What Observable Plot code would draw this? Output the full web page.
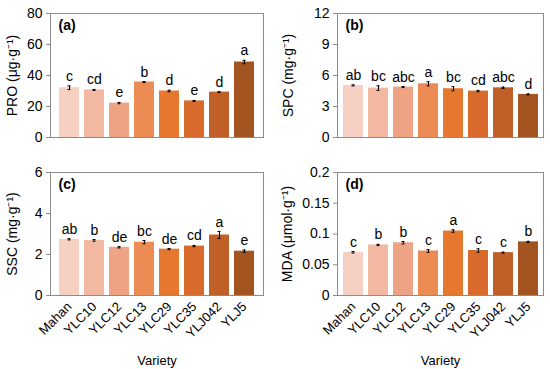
<!DOCTYPE html>
<html>
<head>
<meta charset="utf-8">
<script src="https://cdn.jsdelivr.net/npm/d3@7"></script>
<script src="https://cdn.jsdelivr.net/npm/@observablehq/plot@0.6"></script>
<style>
  body { margin: 0; background: #fff; }
  #wrap { position: relative; width: 550px; height: 369px; background: #fff; font-family: "Liberation Sans", Arial, sans-serif; }
  #wrap > div { position: absolute; }
</style>
</head>
<body>
<div id="wrap">
  <div id="pa" style="left:0;top:0"></div>
  <div id="pb" style="left:275px;top:0"></div>
  <div id="pc" style="left:0;top:160px"></div>
  <div id="pd" style="left:275px;top:160px"></div>
</div>
<script>
const varieties = ["Mahan", "YLC10", "YLC12", "YLC13", "YLC29", "YLC35", "YLJ042", "YLJ5"];
const barColors = ["#f5d0c3", "#f2b8a1", "#eea385", "#ec8b53", "#e6772f", "#d86b2b", "#c05f27", "#a35420"];

// (a) PRO
const proValues = [32.1, 30.7, 22.2, 35.8, 30.0, 23.6, 29.3, 48.7];
const proErrors = [1.2, 0.3, 0.4, 0.3, 0.5, 0.3, 0.3, 1.1];
const proLetters = ["c", "cd", "e", "b", "d", "e", "d", "a"];
const proTicks = [0, 20, 40, 60, 80];

// (b) SPC
const spcValues = [5.04, 4.78, 4.88, 5.2, 4.72, 4.49, 4.81, 4.17];
const spcErrors = [0.05, 0.22, 0.05, 0.2, 0.2, 0.07, 0.07, 0.05];
const spcLetters = ["ab", "bc", "abc", "a", "bc", "cd", "abc", "d"];
const spcTicks = [0, 3, 6, 9, 12];

// (c) SSC
const sscValues = [2.74, 2.69, 2.35, 2.6, 2.26, 2.41, 2.95, 2.16];
const sscErrors = [0.03, 0.04, 0.03, 0.08, 0.03, 0.03, 0.17, 0.06];
const sscLetters = ["ab", "b", "de", "bc", "de", "cd", "a", "e"];
const sscTicks = [0, 2, 4, 6];

// (d) MDA
const mdaValues = [0.0703, 0.0822, 0.0858, 0.0724, 0.1048, 0.0731, 0.0697, 0.0872];
const mdaErrors = [0.0012, 0.0010, 0.0020, 0.0022, 0.0020, 0.0028, 0.0008, 0.0008];
const mdaLetters = ["c", "b", "b", "c", "a", "c", "c", "b"];
const mdaTicks = [0, 0.05, 0.1, 0.15, 0.2];

const FONT = "'Liberation Sans', Arial, sans-serif";

function panel({el, values, errors, letters, ticks, yLabel, tag, bottom, marginLeft, marginRight, labelX}) {
  const data = varieties.map((v, i) => ({variety: v, value: values[i], lo: values[i] - errors[i], hi: values[i] + errors[i], letter: letters[i]}));
  const height = bottom ? 209 : 160;
  const marks = [
    Plot.barY(data, {x: "variety", y: "value", fill: "variety"}),
    Plot.ruleX(data, {x: "variety", y1: "lo", y2: "hi", stroke: "#000", strokeWidth: 1}),
    Plot.tickY(data, {x: "variety", y: "hi", stroke: "#000", strokeWidth: 1, insetLeft: 8.5, insetRight: 8.5}),
    Plot.tickY(data, {x: "variety", y: "lo", stroke: "#000", strokeWidth: 1, insetLeft: 8.5, insetRight: 8.5}),
    Plot.text(data, {x: "variety", y: "hi", text: "letter", dy: -5, lineAnchor: "bottom", fontSize: 14, fill: "#000"}),
    Plot.frame({stroke: "#8c8c8c", strokeWidth: 1}),
    Plot.axisY({ticks, tickSize: 4, tickPadding: 4, stroke: "#8c8c8c", fill: "#000", fontSize: 14,
      tickFormat: d3.format("~g"), label: null}),
    Plot.text([yLabel], {frameAnchor: "left", dx: labelX - marginLeft, rotate: -90, text: d => d,
      fontSize: 14, fill: "#000", textAnchor: "middle", lineAnchor: "middle"}),
    Plot.text([tag], {frameAnchor: "top-left", dx: 8, dy: 7, text: d => d, fontWeight: "bold", fontSize: 14, lineAnchor: "top", textAnchor: "start", fill: "#000"})
  ];
  if (bottom) {
    marks.push(Plot.axisX({tickSize: 0, tickPadding: 9, tickRotate: -45, fontSize: 13, fill: "#000",
      label: "Variety", labelAnchor: "center", labelArrow: "none", labelOffset: 69}));
  }
  const chart = Plot.plot({
    width: 275, height,
    marginLeft, marginRight,
    marginTop: bottom ? 12 : 13,
    marginBottom: bottom ? 74 : 23,
    style: {fontFamily: FONT, fontSize: "14px", background: "transparent", color: "#000"},
    x: {domain: varieties, padding: 0.2, label: null, axis: null},
    y: {domain: [ticks[0], ticks[ticks.length - 1]], label: null, axis: null},
    color: {domain: varieties, range: barColors},
    marks
  });
  document.getElementById(el).appendChild(chart);
}

panel({el: "pa", values: proValues, errors: proErrors, letters: proLetters, ticks: proTicks,
  yLabel: "PRO (μg·g⁻¹)", tag: "(a)", bottom: false, marginLeft: 50, marginRight: 12, labelX: 12.5});
panel({el: "pb", values: spcValues, errors: spcErrors, letters: spcLetters, ticks: spcTicks,
  yLabel: "SPC (mg·g⁻¹)", tag: "(b)", bottom: false, marginLeft: 62, marginRight: 7, labelX: 13});
panel({el: "pc", values: sscValues, errors: sscErrors, letters: sscLetters, ticks: sscTicks,
  yLabel: "SSC (mg·g⁻¹)", tag: "(c)", bottom: true, marginLeft: 50, marginRight: 12, labelX: 12.5});
panel({el: "pd", values: mdaValues, errors: mdaErrors, letters: mdaLetters, ticks: mdaTicks,
  yLabel: "MDA (μmol·g⁻¹)", tag: "(d)", bottom: true, marginLeft: 62, marginRight: 7, labelX: 12});
</script>
</body>
</html>
